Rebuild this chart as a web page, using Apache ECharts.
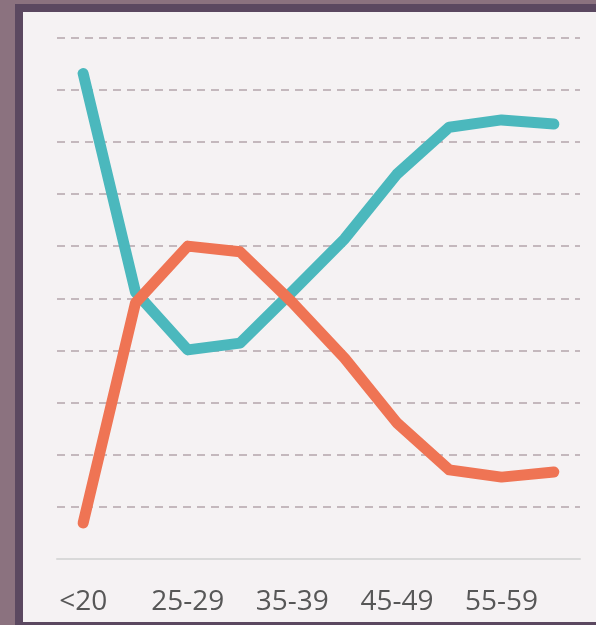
<!DOCTYPE html>
<html>
<head>
<meta charset="utf-8">
<script src="https://cdn.jsdelivr.net/npm/echarts@6/dist/echarts.min.js"></script>
<style>
  html, body { margin: 0; padding: 0; }
  body { width: 596px; height: 625px; position: relative; overflow: hidden; background: #8b727f; }
  #band { position: absolute; left: 15px; top: 4px; right: 0; bottom: 0; background: #5b4860; }
  #panel { position: absolute; left: 23px; top: 12px; right: 0; bottom: 3px; background: #f5f2f3; }
  #chart { position: absolute; left: 0; top: 0; width: 596px; height: 625px; }
</style>
</head>
<body>
<div id="band"></div>
<div id="panel"></div>
<div id="chart"></div>
<script>
// Age groups along the horizontal axis
const ageGroups = ['<20', '20-24', '25-29', '30-34', '35-39', '40-44', '45-49', '50-54', '55-59', '60+'];
// Share (%) per age group for the two groups
const tealShare = [93.1, 51.2, 40.1, 41.4, 51.3, 61.4, 73.8, 82.8, 84.2, 83.4];
const orangeShare = [6.9, 49.1, 60.0, 58.9, 49.2, 38.5, 26.1, 17.1, 15.7, 16.7];
// Value axis range and step
const yMin = 0, yMax = 100, yStep = 10;

const chart = echarts.init(document.getElementById('chart'), null, { renderer: 'canvas' });
chart.setOption({
  backgroundColor: 'transparent',
  animation: false,
  grid: { left: 57, right: 16, top: 37.5, bottom: 66, containLabel: false },
  xAxis: {
    type: 'category',
    data: ageGroups,
    boundaryGap: true,
    axisLine: { show: true, lineStyle: { color: '#d9d9d9', width: 2 } },
    axisTick: { show: false },
    axisLabel: {
      interval: 1,
      margin: 29,
      color: '#575757',
      fontSize: 28,
      fontFamily: 'Open Sans'
    },
    splitLine: { show: false }
  },
  yAxis: {
    type: 'value',
    min: yMin,
    max: yMax,
    interval: yStep,
    axisLine: { show: false },
    axisTick: { show: false },
    axisLabel: { show: false },
    splitLine: {
      show: true,
      lineStyle: { color: '#c4b8bd', width: 2, type: [8, 6] }
    }
  },
  series: [
    {
      type: 'line',
      data: tealShare,
      symbol: 'none',
      lineStyle: { color: '#4bb8bd', width: 11, cap: 'round', join: 'round' },
      z: 3
    },
    {
      type: 'line',
      data: orangeShare,
      symbol: 'none',
      lineStyle: { color: '#ef7454', width: 11, cap: 'round', join: 'round' },
      z: 4
    }
  ]
});
</script>
</body>
</html>
